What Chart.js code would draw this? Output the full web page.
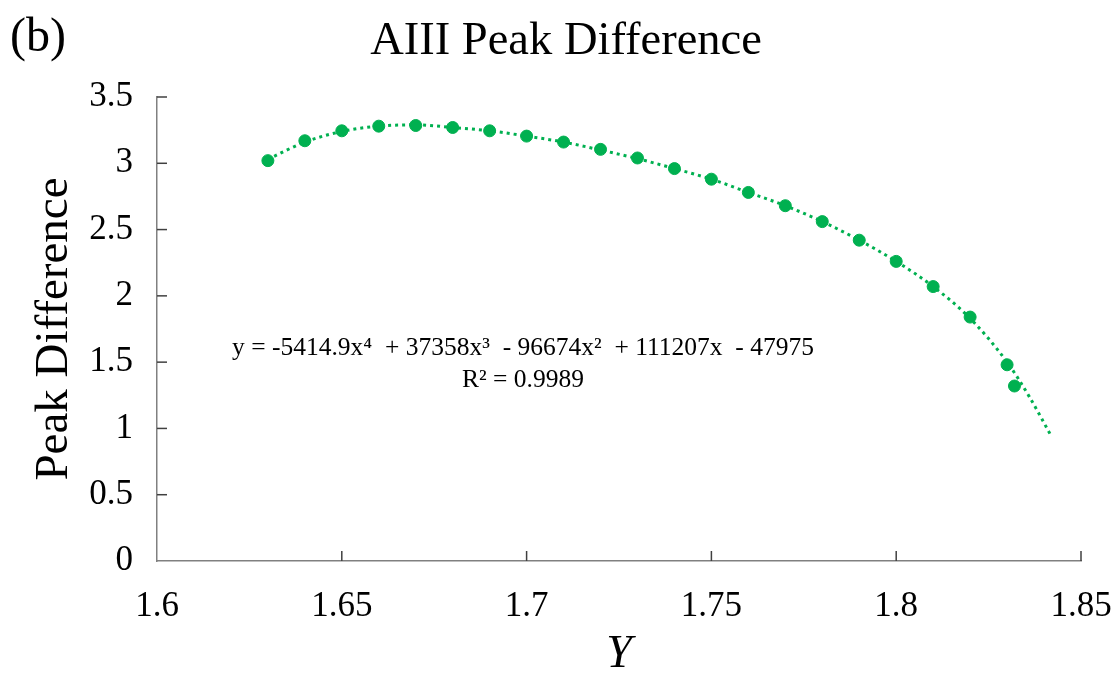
<!DOCTYPE html>
<html>
<head>
<meta charset="utf-8">
<script src="https://cdn.jsdelivr.net/npm/chart.js@4.4.1/dist/chart.umd.min.js"></script>
<style>
    html, body { margin: 0; padding: 0; background: #fff; }
    #wrap { width: 1118px; height: 677px; }
</style>
</head>
<body>
<div id="wrap"><canvas id="peakChart" width="1118" height="677"></canvas></div>
<script>
// ===================== DATA ===================== //
const yRatio = [1.63, 1.64, 1.65, 1.66, 1.67, 1.68, 1.69, 1.70, 1.71, 1.72, 1.73,
                1.74, 1.75, 1.76, 1.77, 1.78, 1.79, 1.80, 1.81, 1.82, 1.83, 1.832];
const peakDiff = [3.02, 3.17, 3.245, 3.28, 3.285, 3.27, 3.245, 3.205, 3.16, 3.105, 3.04,
                  2.96, 2.88, 2.78, 2.68, 2.56, 2.42, 2.26, 2.07, 1.84, 1.48, 1.32];

// trendline
const trendX = [1.63, 1.64, 1.65, 1.66, 1.67, 1.68, 1.69, 1.70, 1.71, 1.72, 1.73, 1.74,
                1.75, 1.76, 1.77, 1.78, 1.79, 1.80, 1.81, 1.82, 1.83, 1.836, 1.842];
const trendY = [3.03, 3.16, 3.24, 3.28, 3.29, 3.27, 3.245, 3.205, 3.16, 3.10, 3.035, 2.96,
                2.88, 2.78, 2.68, 2.56, 2.42, 2.26, 2.07, 1.83, 1.50, 1.24, 0.94];

const xTicks = [1.6, 1.65, 1.7, 1.75, 1.8, 1.85];
const yTicks = [0, 0.5, 1, 1.5, 2, 2.5, 3, 3.5];

const chartTitle = "AIII Peak Difference";
const equationText = "y = -5414.9x\u2074  + 37358x\u00b3  - 96674x\u00b2  + 111207x  - 47975";
const r2Text = "R\u00b2 = 0.9989";

const green = "#00B050";
const serif = "'Liberation Serif', 'Times New Roman', serif";

// ===================== PLUGINS ===================== //
// inside tick marks + title and extra text
const extrasPlugin = {
    id: "extras",
    afterDraw(chart) {
        const c = chart.ctx;
        const xs = chart.scales.x;
        const ys = chart.scales.y;
        const area = chart.chartArea;

        c.save();
        c.strokeStyle = "#404040";
        c.lineWidth = 1.5;
        xTicks.slice(1).forEach(v => {
            const px = xs.getPixelForValue(v);
            c.beginPath();
            c.moveTo(px, area.bottom);
            c.lineTo(px, area.bottom - 10);
            c.stroke();
        });
        yTicks.slice(1).forEach(v => {
            const py = ys.getPixelForValue(v);
            c.beginPath();
            c.moveTo(area.left, py);
            c.lineTo(area.left + 10, py);
            c.stroke();
        });

        c.fillStyle = "#000";
        c.textBaseline = "middle";

        // panel letter
        c.font = "48px " + serif;
        c.textAlign = "left";
        c.fillText("(b)", 10, 38);

        // title
        c.font = "46.5px " + serif;
        c.textAlign = "center";
        c.fillText(chartTitle, 566, 42);

        // trendline equation
        c.font = "25.5px " + serif;
        c.fillText(equationText, 523, 348);
        c.fillText(r2Text, 523, 380);
        c.restore();
    }
};

// ===================== CHART ===================== //
const ctx = document.getElementById("peakChart").getContext("2d");

const peakChart = new Chart(ctx, {
    type: "scatter",
    data: {
        datasets: [
            {
                label: "Peak Difference",
                data: yRatio.map((x, i) => ({ x: x, y: peakDiff[i] })),
                backgroundColor: green,
                borderColor: green,
                pointRadius: 6,
                pointHoverRadius: 6,
                showLine: false,
                order: 1
            },
            {
                label: "Poly. trend",
                data: trendX.map((x, i) => ({ x: x, y: trendY[i] })),
                borderColor: green,
                borderWidth: 3,
                borderDash: [3, 4],
                pointRadius: 0,
                showLine: true,
                cubicInterpolationMode: "monotone",
                order: 2
            }
        ]
    },
    options: {
        responsive: false,
        animation: false,
        layout: { padding: { left: 0, right: 37, top: 97, bottom: 0 } },
        plugins: {
            legend: { display: false },
            tooltip: { enabled: false },
            title: { display: false }
        },
        scales: {
            x: {
                type: "linear",
                min: 1.6,
                max: 1.85,
                afterBuildTicks: axis => { axis.ticks = xTicks.map(v => ({ value: v })); },
                afterFit: axis => {
                    axis.height = 116;
                    axis.paddingLeft = 0;
                    axis.paddingRight = 0;
                },
                grid: { display: false, drawTicks: false },
                border: { display: true, color: "#808080", width: 1.5 },
                ticks: {
                    color: "#000",
                    padding: 25,
                    font: { family: serif, size: 35 },
                    callback: v => String(+v.toFixed(2))
                },
                title: {
                    display: true,
                    text: "Y",
                    color: "#000",
                    font: { family: serif, size: 46, style: "italic", lineHeight: 0.95 },
                    padding: { top: 16, bottom: 0 }
                }
            },
            y: {
                min: 0,
                max: 3.5,
                afterBuildTicks: axis => { axis.ticks = yTicks.map(v => ({ value: v })); },
                afterFit: axis => {
                    axis.width = 157;
                    axis.paddingTop = 0;
                    axis.paddingBottom = 0;
                },
                grid: { display: false, drawTicks: false },
                border: { display: true, color: "#808080", width: 1.5 },
                ticks: {
                    color: "#000",
                    padding: 24,
                    font: { family: serif, size: 35 },
                    callback: v => String(v)
                },
                title: {
                    display: true,
                    text: "Peak Difference",
                    color: "#000",
                    font: { family: serif, size: 47 },
                    padding: { top: 26, bottom: 0 }
                }
            }
        }
    },
    plugins: [extrasPlugin]
});
</script>
</body>
</html>
